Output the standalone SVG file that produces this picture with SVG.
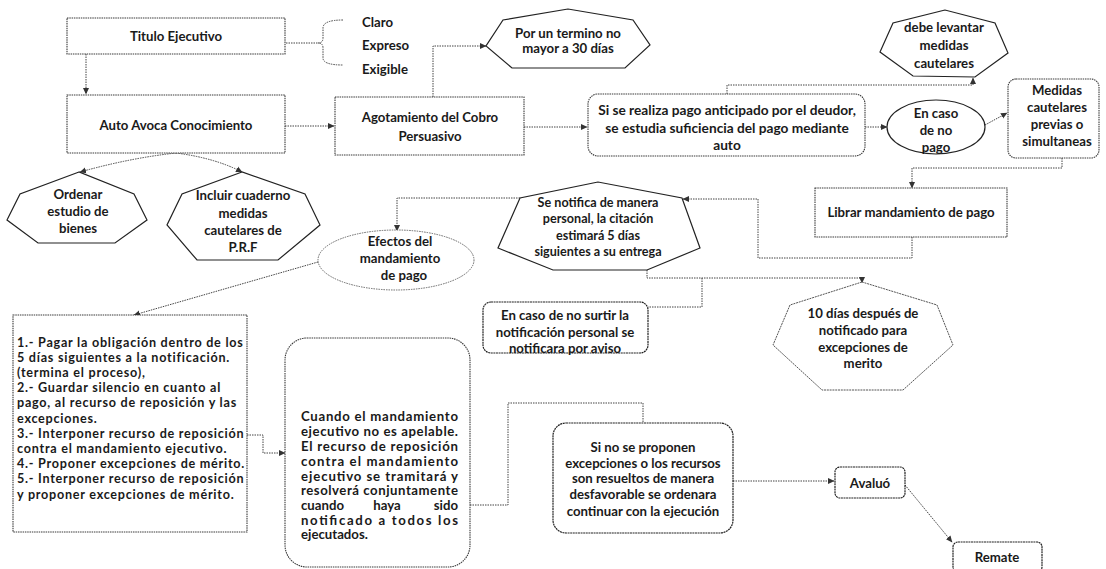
<svg xmlns="http://www.w3.org/2000/svg" width="1106" height="569" viewBox="0 0 1106 569">
<defs>
<marker id="ah" markerWidth="7" markerHeight="7" refX="6" refY="3.5" orient="auto" markerUnits="userSpaceOnUse">
<path d="M0,0.5 L6.5,3.5 L0,6.5 Z" fill="#333"/>
</marker>
<style>
text{font-family:Lato,"Liberation Sans",sans-serif;font-size:13.2px;fill:#1a1a1a;text-anchor:middle;dominant-baseline:central;font-weight:bold}
.l{text-anchor:start}
.s{font-size:12.6px}
.b{font-size:13.7px}
.lst{font-size:12.6px;letter-spacing:0.75px}
.box{fill:#fff;stroke:#3a3a3a;stroke-width:1.1;stroke-dasharray:1.5 0.8}
.rbox{fill:#fff;stroke:#222;stroke-width:1.2;stroke-dasharray:2 0.6}
.hep{fill:#fff;stroke:#222;stroke-width:1.2}
.hepl{fill:#fff;stroke:#555;stroke-width:1;stroke-dasharray:2 0.8}
.con{fill:none;stroke:#444;stroke-width:1;stroke-dasharray:1.5 1}
.arr{marker-end:url(#ah)}
</style>
</defs>
<rect width="1106" height="569" fill="#fff"/>

<g id="connectors">
<path class="con arr" d="M86,54 V94"/>
<path class="con" d="M286,43 H318"/>
<path class="con" d="M343,20 Q323,20 323,28 V38 Q323,43 318,43 Q323,43 323,48 V58 Q323,65 343,65"/>
<path class="con arr" d="M285,126 H334"/>
<path class="con arr" d="M433,97 V46 H486"/>
<path class="con arr" d="M524,127 H587"/>
<path class="con arr" d="M865,127 H887"/>
<path class="con arr" d="M985,125 L1007,113"/>
<path class="con arr" d="M727,94 V85 H973 V78"/>
<path class="con arr" d="M1062,158 V168 H912 V188"/>
<path class="con arr" d="M912,237 V258 H758 V199 H683"/>
<path class="con arr" d="M520,198 H397 V231"/>
<path class="con arr" d="M647,270 V278 H862 V283"/>
<path class="con" d="M702,278 V307 H648"/>
<path class="con arr" d="M176,153 Q130,158 80,172"/>
<path class="con arr" d="M176,153 Q215,158 242,172"/>
<path class="con arr" d="M318,262 L134,315"/>
<path class="con arr" d="M247,435 H263 V453 H285"/>
<path class="con" d="M470,505 H508 V403 H643 V423"/>
<path class="con arr" d="M733,481 H834"/>
<path class="con arr" d="M905,485 L952,542"/>
</g>

<g id="titulo">
<rect class="box" x="67" y="18" width="218" height="36"/>
<text x="176" y="36">Titulo Ejecutivo</text>
</g>
<g id="requisitos">
<text class="l" x="362" y="22">Claro</text>
<text class="l" x="362" y="45">Expreso</text>
<text class="l" x="362" y="69">Exigible</text>
</g>
<g id="auto">
<rect class="box" x="67" y="95" width="218" height="58"/>
<text x="176" y="125">Auto Avoca Conocimiento</text>
</g>
<g id="agotamiento">
<rect class="box" x="335" y="97" width="189" height="58"/>
<text x="430" y="117">Agotamiento del Cobro</text>
<text x="430" y="136">Persuasivo</text>
</g>
<g id="termino">
<polygon class="hep" points="568,9 503,20 486,46 512,68 625,68 650,45 633,20"/>
<text x="568" y="33">Por un termino no</text>
<text x="568" y="48">mayor a 30 días</text>
</g>
<g id="pago-anticipado">
<rect class="box" x="588" y="94" width="277" height="62" rx="10"/>
<text class="b" x="727" y="109">Si se realiza pago anticipado por el deudor,</text>
<text class="b" x="727" y="127">se estudia suficiencia del pago mediante</text>
<text class="b" x="727" y="144">auto</text>
</g>
<g id="levantar">
<polygon class="hep" points="945,10 893,23 880,52 913,76 975,77 1008,53 995,23"/>
<text x="944" y="27">debe levantar</text>
<text x="944" y="45">medidas</text>
<text x="944" y="63">cautelares</text>
</g>
<g id="no-pago">
<ellipse cx="936" cy="127" rx="49" ry="27" fill="#fff" stroke="#222" stroke-width="1.2"/>
<text x="936" y="113">En caso</text>
<text x="936" y="130">de no</text>
<text x="936" y="147">pago</text>
</g>
<g id="medidas">
<rect class="box" x="1008" y="79" width="91" height="79" rx="8"/>
<text x="1057" y="90">Medidas</text>
<text x="1057" y="107">cautelares</text>
<text x="1057" y="124">previas o</text>
<text x="1057" y="141">simultaneas</text>
</g>
<g id="ordenar">
<polygon class="hep" points="79,172 20,194 7,220 38,243 115,243 147,220 134,194"/>
<text x="78" y="194">Ordenar</text>
<text x="78" y="211">estudio de</text>
<text x="78" y="228">bienes</text>
</g>
<g id="incluir">
<polygon class="hep" points="242,172 182,194 167,225 197,260 278,260 320,225 305,194"/>
<text x="243" y="195">Incluir cuaderno</text>
<text x="243" y="213">medidas</text>
<text x="243" y="230">cautelares de</text>
<text x="243" y="247">P.R.F</text>
</g>
<g id="librar">
<rect class="box" x="815" y="188" width="192" height="49"/>
<text x="911" y="212">Librar mandamiento de pago</text>
</g>
<g id="notifica">
<polygon class="hep" points="598,182 520,198 498,248 553,270 647,270 700,248 682,198"/>
<text class="s" x="598" y="202">Se notifica de manera</text>
<text class="s" x="598" y="218">personal, la citación</text>
<text class="s" x="598" y="235">estimará 5 días</text>
<text class="s" x="598" y="251">siguientes a su entrega</text>
</g>
<g id="efectos">
<ellipse cx="396" cy="260" rx="78" ry="30" fill="#fff" stroke="#666" stroke-width="1" stroke-dasharray="1.5 1"/>
<text x="400" y="241">Efectos del</text>
<text x="400" y="258">mandamiento</text>
<text x="404" y="275">de pago</text>
</g>
<g id="aviso">
<rect class="rbox" x="483" y="302" width="165" height="51" rx="8"/>
<text x="565" y="315">En caso de no surtir la</text>
<text x="565" y="332">notificación personal se</text>
<text x="565" y="348">notificara por aviso</text>
</g>
<g id="diez-dias">
<polygon class="hepl" points="862,282 790,305 773,345 822,390 903,390 953,345 937,305"/>
<text x="863" y="313">10 días después de</text>
<text x="863" y="330">notificado para</text>
<text x="863" y="347">excepciones de</text>
<text x="863" y="363">merito</text>
</g>
<g id="opciones">
<rect class="box" x="13" y="315" width="234" height="217"/>
<text class="l lst" x="17" y="342">1.- Pagar la obligación dentro de los</text>
<text class="l lst" x="17" y="357.2">5 días siguientes a la notificación.</text>
<text class="l lst" x="17" y="372.4">(termina el proceso),</text>
<text class="l lst" x="17" y="387.6">2.- Guardar silencio en cuanto al</text>
<text class="l lst" x="17" y="402.8">pago, al recurso de reposición y las</text>
<text class="l lst" x="17" y="418">excepciones.</text>
<text class="l lst" x="17" y="433.2">3.- Interponer recurso de reposición</text>
<text class="l lst" x="17" y="448.4">contra el mandamiento ejecutivo.</text>
<text class="l lst" x="17" y="463.6">4.- Proponer excepciones de mérito.</text>
<text class="l lst" x="17" y="478.8">5.- Interponer recurso de reposición</text>
<text class="l lst" x="17" y="494">y proponer excepciones de mérito.</text>
</g>
<g id="cuando">
<rect class="box" x="285" y="338" width="185" height="229" rx="22"/>
<text class="l" x="301" y="416" textLength="157" lengthAdjust="spacing">Cuando el mandamiento</text>
<text class="l" x="301" y="431" textLength="157" lengthAdjust="spacing">ejecutivo no es apelable.</text>
<text class="l" x="301" y="446" textLength="157" lengthAdjust="spacing">El recurso de reposición</text>
<text class="l" x="301" y="461" textLength="157" lengthAdjust="spacing">contra el mandamiento</text>
<text class="l" x="301" y="476" textLength="157" lengthAdjust="spacing">ejecutivo se tramitará y</text>
<text class="l" x="301" y="490" textLength="157" lengthAdjust="spacing">resolverá conjuntamente</text>
<text class="l" x="301" y="505">cuando</text>
<text x="387" y="505">haya</text>
<text x="458" y="505" style="text-anchor:end">sido</text>
<text class="l" x="301" y="520" textLength="157" lengthAdjust="spacing">notificado a todos los</text>
<text class="l" x="301" y="534">ejecutados.</text>
</g>
<g id="ejecucion">
<rect class="rbox" x="553" y="423" width="180" height="110" rx="13"/>
<text x="643" y="447">Si no se proponen</text>
<text x="643" y="463">excepciones o los recursos</text>
<text x="643" y="478">son resueltos de manera</text>
<text x="643" y="494">desfavorable se ordenara</text>
<text x="643" y="511">continuar con la ejecución</text>
</g>
<g id="avaluo">
<rect class="rbox" x="835" y="467" width="70" height="31" rx="5"/>
<text x="870" y="483">Avaluó</text>
</g>
<g id="remate">
<rect class="rbox" x="953" y="542" width="89" height="30" rx="5"/>
<text x="997" y="557">Remate</text>
</g>
</svg>
